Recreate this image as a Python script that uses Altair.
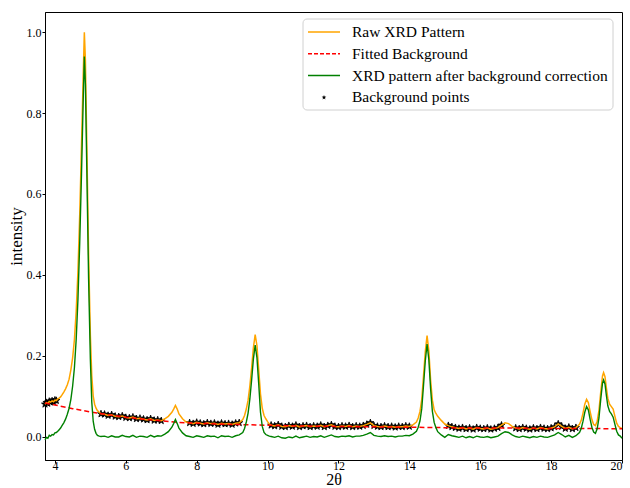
import altair as alt
import pandas as pd

SERIES = ["Raw XRD Pattern", "Fitted Background",
          "XRD pattern after background correction", "Background points"]
COLORS = ["#FFA500", "#FF0000", "#008000", "#000000"]

TWO_THETA = [
    3.72, 3.76, 3.80, 3.84, 3.88, 3.92, 3.96, 4.00, 4.04, 4.08, 4.12, 4.16, 4.20, 4.25, 4.30,
    4.35, 4.40, 4.45, 4.50, 4.55, 4.60, 4.65, 4.70, 4.75, 4.80, 4.83, 4.86, 4.90, 4.95, 5.00,
    5.04, 5.08, 5.12, 5.16, 5.20, 5.25, 5.30,
    5.4, 5.5, 5.6, 5.7, 5.8, 5.9, 6.0, 6.1, 6.2, 6.3, 6.4, 6.5, 6.6, 6.7, 6.8, 6.9, 7.0,
    7.1, 7.2, 7.3, 7.35, 7.4, 7.45, 7.5, 7.6, 7.7,
    7.8, 7.9, 8.0, 8.1, 8.2, 8.3, 8.4, 8.5, 8.6, 8.7, 8.8, 8.9, 9.0, 9.1, 9.2,
    9.3, 9.35, 9.4, 9.45, 9.5, 9.55, 9.6, 9.65, 9.7, 9.75, 9.8, 9.85, 9.9, 9.95, 10.0, 10.05,
    10.1, 10.2, 10.3, 10.4, 10.5, 10.6, 10.7, 10.8, 10.9, 11.0, 11.1, 11.2, 11.3, 11.4, 11.5,
    11.6, 11.7, 11.8, 11.9, 12.0, 12.1, 12.2, 12.3, 12.4, 12.5, 12.6, 12.7, 12.8, 12.9, 13.0,
    13.1, 13.2, 13.3, 13.4, 13.5, 13.6, 13.7, 13.8, 13.9, 14.0,
    14.1, 14.2, 14.25, 14.3, 14.35, 14.4, 14.45, 14.5, 14.55, 14.6, 14.65, 14.7, 14.75, 14.8,
    14.9, 15.0,
    15.1, 15.2, 15.3, 15.4, 15.5, 15.6, 15.7, 15.8, 15.9, 16.0, 16.1, 16.2, 16.3, 16.4, 16.5,
    16.6, 16.7, 16.8, 16.9,
    17.0, 17.1, 17.2, 17.3, 17.4, 17.5, 17.6, 17.7, 17.8, 17.9, 18.0, 18.1, 18.2, 18.3, 18.4,
    18.5, 18.6, 18.7,
    18.8, 18.85, 18.9, 18.95, 19.0, 19.05, 19.1, 19.15, 19.2, 19.25, 19.3, 19.35, 19.4, 19.45,
    19.48, 19.52, 19.56, 19.6, 19.65, 19.7, 19.75, 19.8, 19.85, 19.9, 19.95, 20.0,
]

RAW = [
    0.080, 0.084, 0.082, 0.087, 0.085, 0.088, 0.086, 0.090, 0.089, 0.093, 0.095, 0.098, 0.103, 0.110, 0.118,
    0.128, 0.142, 0.165, 0.195, 0.240, 0.310, 0.410, 0.550, 0.720, 0.900, 1.000, 0.930, 0.720, 0.450, 0.250,
    0.150, 0.100, 0.080, 0.070, 0.064, 0.060, 0.056,
    0.055, 0.052, 0.054, 0.050, 0.049, 0.051, 0.047, 0.046, 0.048, 0.044, 0.045, 0.043, 0.041, 0.044, 0.040, 0.041, 0.039,
    0.044, 0.050, 0.060, 0.068, 0.077, 0.068, 0.056, 0.044, 0.036,
    0.034, 0.032, 0.035, 0.033, 0.031, 0.034, 0.032, 0.033, 0.030, 0.033, 0.031, 0.032, 0.030, 0.033, 0.034,
    0.042, 0.052, 0.068, 0.090, 0.125, 0.170, 0.220, 0.252, 0.225, 0.165, 0.105, 0.070, 0.052, 0.044, 0.037, 0.031,
    0.028, 0.026, 0.029, 0.025, 0.024, 0.027, 0.025, 0.028, 0.024, 0.026, 0.027, 0.024, 0.026, 0.025, 0.028,
    0.024, 0.027, 0.029, 0.025, 0.024, 0.026, 0.025, 0.027, 0.024, 0.026, 0.025, 0.027, 0.030, 0.034, 0.027,
    0.025, 0.024, 0.026, 0.024, 0.025, 0.023, 0.025, 0.024, 0.026, 0.025,
    0.029, 0.036, 0.046, 0.062, 0.092, 0.150, 0.210, 0.250, 0.212, 0.140, 0.090, 0.066, 0.057, 0.050,
    0.040, 0.031,
    0.027, 0.024, 0.022, 0.020, 0.022, 0.019, 0.021, 0.018, 0.022, 0.020, 0.019, 0.021, 0.018, 0.020, 0.022,
    0.028, 0.034, 0.032, 0.025,
    0.021, 0.019, 0.022, 0.020, 0.018, 0.021, 0.019, 0.022, 0.020, 0.019, 0.021, 0.024, 0.031, 0.025, 0.020,
    0.023, 0.019, 0.022,
    0.030, 0.040, 0.058, 0.080, 0.092, 0.084, 0.062, 0.042, 0.030, 0.027, 0.038, 0.065, 0.110, 0.150,
    0.158, 0.148, 0.120, 0.095, 0.080, 0.074, 0.068, 0.050, 0.033, 0.025, 0.022, 0.020,
]

CORRECTED = [
    -0.008, -0.002, -0.004, 0.003, 0.001, 0.005, 0.004, 0.009, 0.010, 0.013, 0.017, 0.021, 0.027, 0.034, 0.043,
    0.055, 0.070, 0.092, 0.125, 0.170, 0.240, 0.340, 0.480, 0.650, 0.840, 0.940, 0.870, 0.660, 0.390, 0.190,
    0.085, 0.038, 0.018, 0.008, 0.003, 0.001, 0.000,
    0.001, -0.002, 0.002, -0.001, -0.001, 0.003, 0.000, -0.001, 0.003, -0.002, 0.001, 0.000, -0.002, 0.003, -0.001, 0.002, 0.001,
    0.006, 0.012, 0.023, 0.032, 0.042, 0.032, 0.021, 0.009, 0.002,
    0.000, -0.002, 0.002, 0.000, -0.002, 0.002, 0.000, 0.001, -0.003, 0.002, 0.000, 0.001, -0.002, 0.002, 0.004,
    0.010, 0.020, 0.036, 0.058, 0.093, 0.140, 0.192, 0.226, 0.195, 0.130, 0.060, 0.025, 0.010, 0.005, 0.003, 0.001,
    0.000, -0.002, 0.001, -0.003, -0.004, -0.001, -0.003, 0.001, -0.003, -0.001, 0.001, -0.002, 0.000, -0.001, 0.002,
    -0.002, 0.001, 0.004, 0.000, -0.001, 0.001, 0.000, 0.002, -0.001, 0.001, 0.001, 0.003, 0.006, 0.010, 0.003,
    0.001, 0.000, 0.002, 0.000, 0.001, -0.001, 0.001, 0.001, 0.003, 0.002,
    0.006, 0.013, 0.023, 0.039, 0.069, 0.127, 0.187, 0.229, 0.190, 0.118, 0.062, 0.035, 0.022, 0.012,
    0.004, -0.002,
    0.005, 0.002, 0.000, -0.002, 0.001, -0.003, 0.000, -0.003, 0.001, -0.001, -0.002, 0.000, -0.003, -0.001, 0.001,
    0.007, 0.012, 0.010, 0.004,
    0.000, -0.002, 0.001, -0.001, -0.003, 0.000, -0.002, 0.001, -0.001, -0.002, 0.001, 0.004, 0.010, 0.005, -0.001,
    0.003, -0.002, 0.002,
    0.010, 0.020, 0.038, 0.060, 0.074, 0.066, 0.043, 0.023, 0.011, 0.008, 0.019, 0.046, 0.092, 0.132,
    0.140, 0.130, 0.101, 0.076, 0.062, 0.056, 0.048, 0.030, 0.013, 0.004, 0.001, -0.004,
]

BG_X = [3.72, 4.0, 4.5, 5.0, 5.5, 6.0, 6.5, 7.0, 7.5, 8.0, 9.0, 10.0, 11.0, 12.0, 13.0,
        14.0, 15.0, 16.0, 17.0, 18.0, 19.0, 20.0]
BG_Y = [0.083, 0.078, 0.069, 0.061, 0.054, 0.048, 0.043, 0.039, 0.035, 0.033, 0.030, 0.028,
        0.026, 0.025, 0.024, 0.023, 0.022, 0.021, 0.021, 0.020, 0.020, 0.019]

# 2θ windows whose raw points were used as background points
BG_RANGES = [(3.72, 4.05), (5.3, 7.0), (7.75, 9.2), (10.1, 14.0), (15.1, 16.6), (17.0, 18.7)]

X_TICKS = [4, 6, 8, 10, 12, 14, 16, 18, 20]
Y_TICKS = [0.0, 0.2, 0.4, 0.6, 0.8, 1.0]

raw_df = pd.DataFrame({"x": TWO_THETA, "y": RAW})
bg_df = pd.DataFrame({"x": BG_X, "y": BG_Y})
corr_df = pd.DataFrame({"x": TWO_THETA, "y": CORRECTED})
mask = raw_df["x"].apply(lambda v: any(a - 1e-9 <= v <= b + 1e-9 for a, b in BG_RANGES))
pts_df = raw_df[mask].reset_index(drop=True)

FONT = "Liberation Serif"
# five-pointed star as an SVG path in the unit square (Vega has no built-in star)
STAR = ("M0,-1L0.235,-0.324L0.951,-0.309L0.38,0.124L0.588,0.809L0,0.4"
        "L-0.588,0.809L-0.38,0.124L-0.951,-0.309L-0.235,-0.324Z")

xenc = alt.X("x:Q", scale=alt.Scale(domain=[3.72, 20], nice=False, zero=False),
             axis=alt.Axis(values=X_TICKS, format="d", title="2θ"))
yenc = alt.Y("y:Q", scale=alt.Scale(domain=[-0.058, 1.05], nice=False),
             axis=alt.Axis(values=Y_TICKS, format=".1f", title="intensity"))

pts = alt.Chart(pts_df).mark_point(shape=STAR, filled=True, size=55, opacity=1,
                                   stroke="black", strokeWidth=0.8,
                                   color=COLORS[3]).encode(x=xenc, y=yenc)
raw = alt.Chart(raw_df).mark_line(strokeWidth=1.5, color=COLORS[0]).encode(x=xenc, y=yenc)
bg = alt.Chart(bg_df).mark_line(strokeWidth=1.5, strokeDash=[5, 3],
                                color=COLORS[1]).encode(x=xenc, y=yenc)
corr = alt.Chart(corr_df).mark_line(strokeWidth=1.4, color=COLORS[2]).encode(x=xenc, y=yenc)

# ---- legend (drawn in the upper right of the plot area) ----
one = pd.DataFrame({"k": [0]})
LEG_LEFT, LEG_RIGHT, LEG_TOP, LEG_BOTTOM = 258, 568, 7, 98
ROW0, ROW_STEP = 20, 21.8
SYM_X0, SYM_X1, TXT_X = 263, 295, 307

legend_layers = [
    alt.Chart(one).mark_rect(fill="white", stroke="#cccccc", strokeWidth=1, cornerRadius=4,
                             opacity=0.9).encode(
        x=alt.value(LEG_LEFT), x2=alt.value(LEG_RIGHT),
        y=alt.value(LEG_TOP), y2=alt.value(LEG_BOTTOM))
]
DASHES = [[1, 0], [4, 2], [1, 0]]
for i, name in enumerate(SERIES):
    ry = ROW0 + ROW_STEP * i
    if i < 3:
        legend_layers.append(
            alt.Chart(one).mark_rule(color=COLORS[i], strokeWidth=1.5, strokeDash=DASHES[i]).encode(
                x=alt.value(SYM_X0), x2=alt.value(SYM_X1), y=alt.value(ry)))
    else:
        legend_layers.append(
            alt.Chart(one).mark_point(shape=STAR, filled=True, size=24, opacity=1,
                                      color=COLORS[i]).encode(
                x=alt.value((SYM_X0 + SYM_X1) / 2), y=alt.value(ry)))
    legend_layers.append(
        alt.Chart(one).mark_text(text=name, align="left", baseline="middle", font=FONT,
                                 fontSize=15.5, color="black").encode(
            x=alt.value(TXT_X), y=alt.value(ry)))

chart = alt.layer(pts, raw, bg, corr, *legend_layers).properties(
    width=577, height=448,
    autosize=alt.AutoSizeParams(type="none"),
    padding={"left": 45, "top": 12, "right": 8, "bottom": 28},
).configure_view(stroke="black", strokeWidth=1).configure_axis(
    labelFont=FONT, labelFontSize=12, labelColor="black",
    titleFont=FONT, titleFontSize=17, titleFontWeight="normal", titleColor="black",
    domainColor="black", tickColor="black", tickSize=3, grid=False,
).configure_axisX(labelPadding=-3, titlePadding=0, titleFontSize=16).configure_axisY(
    labelPadding=1, titlePadding=1)

chart.save("out.html", embed_options={"renderer": "svg", "actions": False})
